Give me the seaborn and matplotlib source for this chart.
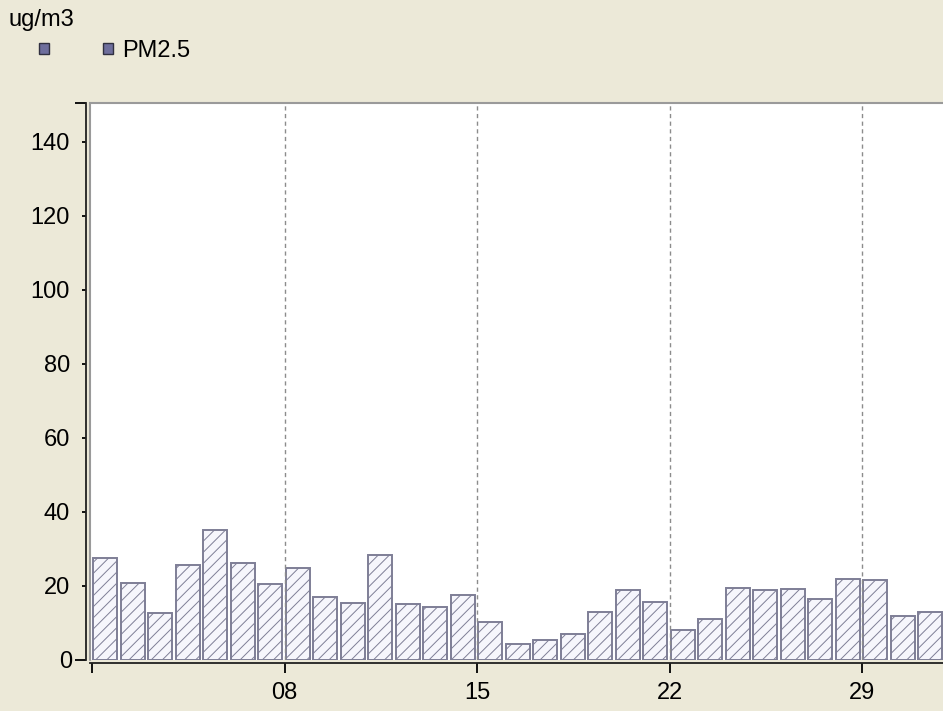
import pandas as pd
import matplotlib.pyplot as plt
import seaborn as sns
from matplotlib.patches import Patch
from matplotlib.lines import Line2D

# daily PM2.5 values (ug/m3)
days = list(range(1, 32))
pm25 = [27.6, 20.7, 12.6, 25.8, 35.2, 26.1, 20.4, 24.9, 16.9, 15.4,
        28.4, 15.0, 14.2, 17.6, 10.4, 4.2, 5.4, 6.9, 13.1, 18.8,
        15.8, 8.1, 11.2, 19.5, 18.8, 19.2, 16.5, 21.9, 21.5, 11.9, 13.1]
tick_days = [1, 8, 15, 22, 29]
tick_labels = ["", "08", "15", "22", "29"]
y_ticks = [20, 40, 60, 80, 100, 120, 140]
y_top = 150.5

df = pd.DataFrame({"day": days, "PM2.5": pm25})

sns.set_style("white")
plt.rcParams["font.family"] = ["Liberation Sans", "DejaVu Sans"]
plt.rcParams["text.color"] = "black"
plt.rcParams["xtick.color"] = "black"
plt.rcParams["ytick.color"] = "black"
plt.rcParams["axes.labelcolor"] = "black"
plt.rcParams["hatch.linewidth"] = 0.7
plt.rcParams["hatch.color"] = "#7e7e96"

bg = "#ece9d8"
fig = plt.figure(figsize=(9.43, 7.11), dpi=100, facecolor=bg)
ax = fig.add_axes([90 / 943, 51 / 711, 860 / 943, 557 / 711])
ax.set_facecolor("white")

sns.barplot(data=df, x="day", y="PM2.5", native_scale=True, width=0.88,
            color="#f6f6fc", saturation=1, edgecolor="#7e7e96", linewidth=1.4,
            hatch="///", errorbar=None, ax=ax, zorder=2)

# bars sit to the right of their day tick
for p in ax.patches:
    p.set_x(p.get_x() + 0.48)

ax.set_xlim(0.927, 32.2)
ax.set_ylim(0, y_top)

# dashed weekly grid lines
for d in tick_days[1:]:
    ax.axvline(d, color="#8c8c8c", lw=1, ls=(0, (3, 2.5)), zorder=3)

# axes and frame
ax.spines["right"].set_visible(False)
ax.spines["top"].set_color("#9a9a9a")
ax.spines["top"].set_linewidth(1.5)
ax.add_line(Line2D([0, 0], [0, 1], transform=ax.transAxes, color="#9a9a9a",
                   lw=1.5, clip_on=False))
ax.spines["left"].set_position(("outward", 3))
ax.spines["bottom"].set_position(("outward", 2.2))
for side in ["left", "bottom"]:
    ax.spines[side].set_color("#202020")
    ax.spines[side].set_linewidth(1.3)

ax.set_xticks(tick_days, labels=tick_labels)
ax.set_yticks(y_ticks)
ax.set_yticks([0, y_top], labels=["0", ""], minor=True)
ax.tick_params(axis="x", length=7.5, width=1.3, pad=6, labelsize=17,
               direction="out", bottom=True)
ax.tick_params(axis="y", which="major", length=3, width=1.3, pad=8.5,
               labelsize=17, direction="out", left=True)
ax.tick_params(axis="y", which="minor", length=8, width=1.3, pad=2,
               labelsize=17, direction="out", left=True)
ax.set_xlabel("")
ax.set_ylabel("ug/m3", rotation=0, ha="left", va="baseline", fontsize=17)
ax.yaxis.set_label_coords(9 / 943, 1 - 26 / 711, transform=fig.transFigure)

handles = [Patch(fc="#6e6e9c", ec="#303040", lw=1),
           Patch(fc="#6e6e9c", ec="#303040", lw=1)]
fig.legend(handles, ["", "PM2.5"], loc="center left",
           bbox_to_anchor=(39 / 943, 1 - 51 / 711), ncol=2, frameon=False,
           fontsize=17, handlelength=0.42, handleheight=0.3,
           handletextpad=0.42, columnspacing=1.86, borderpad=0,
           borderaxespad=0)

fig.savefig("out.png", dpi=100, facecolor=bg)
